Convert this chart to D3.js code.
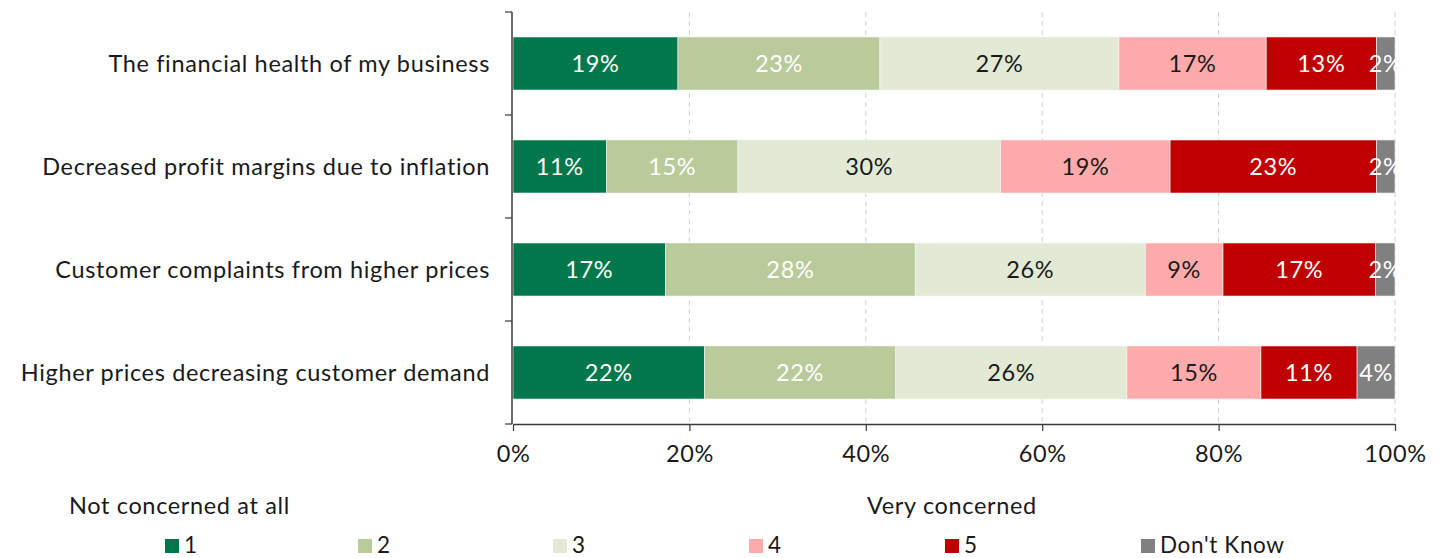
<!DOCTYPE html>
<html>
<head>
<meta charset="utf-8">
<script src="https://cdn.jsdelivr.net/npm/d3@7"></script>
<style>
  html, body { margin: 0; padding: 0; background: #fff; }
  svg { display: block; font-family: Lato, "Open Sans", sans-serif; letter-spacing: 0.65px; }
</style>
</head>
<body>
<svg id="chart" width="1443" height="558"></svg>
<script>
const categories = [
  "The financial health of my business",
  "Decreased profit margins due to inflation",
  "Customer complaints from higher prices",
  "Higher prices decreasing customer demand"
];
const seriesNames = ["1", "2", "3", "4", "5", "Don't Know"];
const s1 = [18.7, 10.6, 17.3, 21.7];
const s2 = [22.9, 14.9, 28.3, 21.7];
const s3 = [27.1, 29.8, 26.1, 26.2];
const s4 = [16.7, 19.2, 8.8, 15.2];
const s5 = [12.5, 23.4, 17.3, 10.9];
const sDK = [2.1, 2.1, 2.2, 4.3];
const xTicks = [0, 20, 40, 60, 80, 100];
const colors = ["#00784B", "#B9CA9B", "#E2EAD6", "#FFABAB", "#C00000", "#808080"];
const labelColors = ["#ffffff", "#ffffff", "#1a1a1a", "#1a1a1a", "#ffffff", "#ffffff"];

const seriesValues = [s1, s2, s3, s4, s5, sDK];
const rows = categories.map((c, i) => {
  const r = { category: c };
  seriesNames.forEach((s, j) => r[s] = seriesValues[j][i]);
  return r;
});

const FS = 23.5;
const svg = d3.select("#chart");
const margin = { left: 513, right: 48, top: 12, bottom: 134 };
const W = 1443, H = 558;

const x = d3.scaleLinear().domain([0, 100]).range([margin.left, W - margin.right]);
const y = d3.scaleBand().domain(categories).range([margin.top, H - margin.bottom]).paddingInner(0.485).paddingOuter(0.2425);
const yOuter = d3.scaleBand().domain(categories).range([margin.top, H - margin.bottom]);

// gridlines
svg.append("g").selectAll("line").data(xTicks.filter(t => t > 0)).join("line")
  .attr("x1", d => x(d)).attr("x2", d => x(d))
  .attr("y1", margin.top).attr("y2", H - margin.bottom)
  .attr("stroke", "#d0d0d0").attr("stroke-width", 1).attr("stroke-dasharray", "5,4");

const stack = d3.stack().keys(seriesNames);
const stacked = stack(rows);

const layers = svg.append("g").selectAll("g").data(stacked).join("g")
  .attr("fill", (d, i) => colors[i]);

layers.selectAll("rect").data(d => d.map(p => ({ p, cat: p.data.category }))).join("rect")
  .attr("x", d => x(d.p[0]))
  .attr("width", d => x(d.p[1]) - x(d.p[0]))
  .attr("y", d => y(d.cat))
  .attr("height", y.bandwidth())
  .attr("stroke", "#f4f4f4").attr("stroke-width", 0.6);

// value labels
stacked.forEach((layer, i) => {
  svg.append("g").selectAll("text").data(layer).join("text")
    .attr("x", d => (x(d[0]) + x(d[1])) / 2)
    .attr("y", d => y(d.data.category) + y.bandwidth() / 2)
    .attr("dy", "0.35em")
    .attr("text-anchor", "middle")
    .attr("font-size", FS)
    .attr("fill", labelColors[i])
    .text(d => Math.round(d[1] - d[0]) + "%");
});

// axes
const axisColor = "#3a3a3a";
const xAxis = svg.append("g").attr("transform", `translate(0,${H - margin.bottom})`)
  .call(d3.axisBottom(x).tickValues(xTicks).tickFormat(d => d + "%").tickSize(7).tickSizeOuter(0));
xAxis.select(".domain").attr("stroke", axisColor).attr("stroke-width", 1.5);
xAxis.selectAll(".tick line").attr("stroke", axisColor).attr("stroke-width", 1.2);
xAxis.selectAll("text").attr("font-size", FS).attr("fill", "#1a1a1a").attr("font-family", "Lato, sans-serif").attr("dy", "1.2em");

const yAxisG = svg.append("g").attr("transform", `translate(${margin.left - 1},0)`);
yAxisG.append("line").attr("x1", 0).attr("x2", 0).attr("y1", margin.top).attr("y2", H - margin.bottom)
  .attr("stroke", axisColor).attr("stroke-width", 1.5);
const bounds = categories.map(c => yOuter(c)).concat([H - margin.bottom]);
yAxisG.selectAll("line.tk").data(bounds).join("line").attr("class", "tk")
  .attr("x1", -7).attr("x2", 0).attr("y1", d => d).attr("y2", d => d)
  .attr("stroke", axisColor).attr("stroke-width", 1.2);

svg.append("g").selectAll("text").data(categories).join("text")
  .attr("x", 490)
  .attr("y", d => y(d) + y.bandwidth() / 2)
  .attr("dy", "0.35em")
  .attr("text-anchor", "end")
  .attr("font-size", FS)
  .attr("fill", "#1a1a1a")
  .text(d => d);

// legend
svg.append("text").attr("x", 69).attr("y", 514).attr("font-size", FS).attr("fill", "#1a1a1a").text("Not concerned at all");
svg.append("text").attr("x", 867).attr("y", 514).attr("font-size", FS).attr("fill", "#1a1a1a").text("Very concerned");

const legendX = [165, 358, 553, 749, 945, 1141];
const lg = svg.append("g").selectAll("g").data(seriesNames).join("g")
  .attr("transform", (d, i) => `translate(${legendX[i]},539)`);
lg.append("rect").attr("width", 14).attr("height", 14).attr("fill", (d, i) => colors[i]);
lg.append("text").attr("x", 19).attr("y", 14).attr("font-size", FS - 1).attr("fill", "#1a1a1a").text(d => d);
</script>
</body>
</html>
